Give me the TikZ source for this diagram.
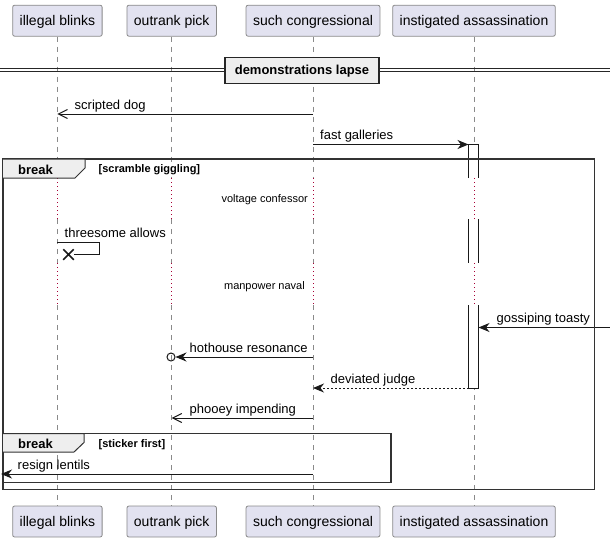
\documentclass[tikz,border=0pt]{standalone}
\usepackage{fontspec}
\setmainfont{Liberation Sans}
\usetikzlibrary{arrows.meta,shapes.misc}
\definecolor{partfill}{HTML}{E2E2F0}
\definecolor{partline}{HTML}{8A8A8A}
\definecolor{pausedot}{HTML}{A80036}
\definecolor{headfill}{HTML}{EEEEEE}
\tikzset{
  actor/.style={draw=partline, fill=partfill, rounded corners=2pt, line width=0.8pt,
    minimum height=31pt, inner xsep=7pt, text height=11pt, text depth=2pt,
    font=\fontsize{14}{16}\selectfont},
  life/.style={draw=partline, line width=0.6pt, dash pattern=on 5pt off 5pt},
  pause/.style={draw=pausedot, line width=1pt, dash pattern=on 1pt off 3pt},
  msg/.style={draw=black!90, line width=1pt},
  sync/.style={msg, -{Stealth[length=11pt,width=9pt,inset=3.5pt]}},
  async/.style={msg, -{Straight Barb[length=9pt,width=9pt]}},
  reply/.style={sync, dash pattern=on 2pt off 2pt},
  lbl/.style={anchor=base west, inner sep=0pt, font=\fontsize{13}{15}\selectfont},
  pausetxt/.style={anchor=base east, inner sep=0pt, font=\fontsize{11}{13}\selectfont},
  actline/.style={draw=black!90, line width=1pt},
  frame/.style={draw=black!80, line width=1.5pt},
  fhead/.style={fill=headfill, draw=black!80, line width=1pt},
  ftitle/.style={anchor=base west, inner sep=0pt, font=\fontsize{13}{15}\bfseries\selectfont},
  fcond/.style={anchor=base west, inner sep=0pt, font=\fontsize{11}{13}\bfseries\selectfont},
  divbox/.style={draw=black!85, fill=headfill, line width=1.5pt, minimum width=154pt,
    minimum height=26pt, text height=9.5pt, text depth=2.1pt,
    font=\fontsize{13}{15}\bfseries\selectfont},
  kill/.style={cross out, draw=black!90, line width=1.5pt, minimum size=9pt, inner sep=0pt},
  lost/.style={circle, draw=black!90, line width=1pt, minimum size=8pt, inner sep=0pt}
}
\begin{document}
\begin{tikzpicture}[x=1pt, y=-1pt]
  \useasboundingbox (0,0) rectangle (610,541);
  \node[actor] (IB) at (57.4,20.7) {illegal blinks};
  \node[actor] (OP) at (171.7,20.7) {outrank pick};
  \node[actor] (SC) at (313,20.7) {such congressional};
  \node[actor] (IA) at (474,20.7) {instigated assassination};
  \node[actor] (IB2) at (57.4,521.5) {illegal blinks};
  \node[actor] (OP2) at (171.7,521.5) {outrank pick};
  \node[actor] (SC2) at (313,521.5) {such congressional};
  \node[actor] (IA2) at (474,521.5) {instigated assassination};

  \coordinate (rSd) at (0,114);
  \coordinate (rFg) at (0,144.5);
  \coordinate (rH1) at (0,178);
  \coordinate (rD1) at (0,219);
  \coordinate (rSelf) at (0,242.5);
  \coordinate (rD2) at (0,263);
  \coordinate (rD2e) at (0,305);
  \coordinate (rHr) at (0,357);
  \coordinate (rDj) at (0,388);
  \coordinate (rPi) at (0,418);
  \coordinate (rRl) at (0,474);

  \foreach \p in {IB,OP,SC,IA}{
    \draw[life] (\p.south) -- (\p |- rH1);
    \draw[pause] (\p |- rH1) -- (\p |- rD1);
    \draw[life] (\p |- rD1) -- (\p |- rD2);
    \draw[pause] (\p |- rD2) -- (\p |- rD2e);
    \draw[life] (\p |- rD2e) -- (\p2.north);
  }

  \draw[line width=1pt, black!85] (0,68.5) -- (610,68.5) (0,71.5) -- (610,71.5);
  \node[divbox] (div) at (302,70.3) {demonstrations lapse};

  \fill[white] (468.5,144.5) rectangle (478.5,178);
  \draw[actline] (468.5,178) -- (468.5,144.5) -- (478.5,144.5) -- (478.5,178);
  \fill[white] (468.5,219) rectangle (478.5,263);
  \draw[actline] (468.5,219) -- (468.5,263) (478.5,219) -- (478.5,263);
  \filldraw[actline, fill=white] (468.5,305) -- (468.5,388) -- (478.5,388) -- (478.5,305);

  \draw[async] (SC |- rSd) -- (IB |- rSd);
  \node[lbl] (lSd) at (74.5,109) {scripted dog};
  \coordinate (fgEnd) at (468.5,144.5);
  \draw[sync] (SC |- rFg) -- (fgEnd);
  \node[lbl] (lFg) at (320,139.5) {fast galleries};

  \node[pausetxt] (d1) at (308,202.5) {voltage confessor};
  \coordinate (selfTurn) at (99.5,242.5);
  \node[kill] (xIB) at (68.5,254.5) {};
  \draw[msg] (IB |- rSelf) -- (selfTurn) |- (xIB);
  \node[lbl] (lSelf) at (64.5,237.5) {threesome allows};
  \node[pausetxt] (d2) at (305,289) {manpower naval};

  \coordinate (rightEdge) at (610,327.5);
  \coordinate (gtEnd) at (478.5,327.5);
  \draw[sync] (rightEdge) -- (gtEnd);
  \node[lbl] (lGt) at (496.5,322.5) {gossiping toasty};
  \node[lost] (hhEnd) at (171,357) {};
  \draw[sync] (SC |- rHr) -- (hhEnd);
  \node[lbl] (lHr) at (189.5,352) {hothouse resonance};
  \coordinate (djStart) at (468.5,388);
  \draw[reply] (djStart) -- (SC |- rDj);
  \node[lbl] (lDj) at (330.5,383) {deviated judge};
  \draw[async] (SC |- rPi) -- (OP |- rPi);
  \node[lbl] (lPi) at (189.5,413) {phooey impending};

  \draw[frame] (3,159) rectangle (594.5,489.5);
  \filldraw[fhead] (3,159) -- (85,159) -- (85,168) -- (75,178) -- (3,178);
  \node[ftitle] (b1) at (18,174) {break};
  \node[fcond] (c1) at (98.5,172.5) {[scramble giggling]};

  \draw[frame] (3,433.5) rectangle (391,482.5);
  \filldraw[fhead] (3,433.5) -- (84,433.5) -- (84,442.5) -- (74,452) -- (3,452);
  \node[ftitle] (b2) at (18,448.5) {break};
  \node[fcond] (c2) at (98.5,447.5) {[sticker first]};
  \coordinate (leftEdge) at (1,474);
  \draw[sync] (SC |- rRl) -- (leftEdge);
  \node[lbl] (lRl) at (17.5,469) {resign lentils};
\end{tikzpicture}
\end{document}
